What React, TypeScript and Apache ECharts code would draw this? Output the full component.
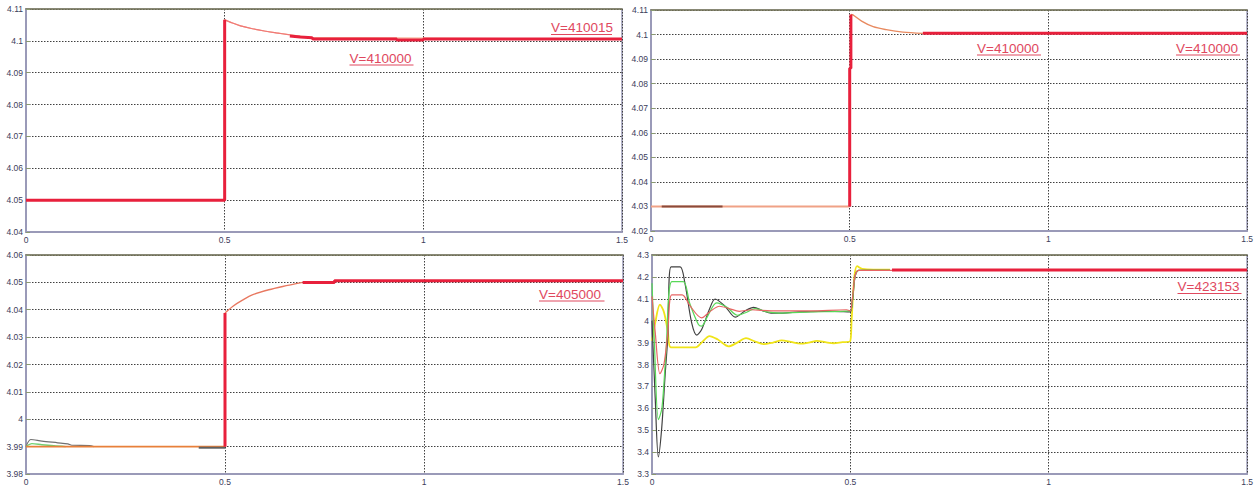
import React, { useEffect, useRef } from "react";
import * as echarts from "echarts";

// ---------- tick / axis data ----------
const xTicks = [0, 0.5, 1, 1.5];
const yRanges = [
  { min: 4.04, max: 4.11, interval: 0.01 },
  { min: 4.02, max: 4.11, interval: 0.01 },
  { min: 3.98, max: 4.06, interval: 0.01 },
  { min: 3.3, max: 4.3, interval: 0.1 },
];

// ---------- panel 1 ----------
const p1Orange = [[0, 4.05], [0.5, 4.05], [0.5, 4.1066], [0.52, 4.1056], [0.54, 4.1047], [0.57, 4.1038], [0.6, 4.1031], [0.63, 4.1025], [0.66, 4.102], [0.72, 4.101], [1.5, 4.1006]];
const p1RedStep = [[0, 4.05], [0.5, 4.05], [0.5, 4.1066]];
const p1Decay = [[0.5, 4.1066], [0.52, 4.1056], [0.54, 4.1047], [0.57, 4.1038], [0.6, 4.1031], [0.63, 4.1025], [0.664, 4.1019]];
const p1RedTail = [[0.664, 4.1015], [0.69, 4.1012], [0.72, 4.101], [0.722, 4.1006], [0.933, 4.1006], [0.933, 4.1003], [1.0, 4.1003], [1.0, 4.1006], [1.5, 4.1006]];

// ---------- panel 2 ----------
const p2Base = [[0, 4.03], [0.5, 4.03]];
const p2Brown = [[0.027, 4.03], [0.18, 4.03]];
const p2RedStep = [[0.5, 4.03], [0.5, 4.0863], [0.503, 4.0863], [0.503, 4.1082]];
const p2Decay = [[0.503, 4.1082], [0.508, 4.108], [0.53, 4.1055], [0.559, 4.1032], [0.592, 4.102], [0.634, 4.101], [0.684, 4.1005]];
const p2RedTail = [[0.684, 4.1005], [1.5, 4.1005]];

// ---------- panel 3 ----------
const p3Orange = [[0, 3.99], [0.5, 3.99]];
const p3Gray = [[0, 3.99], [0.012, 3.9926], [0.04, 3.992], [0.08, 3.9914], [0.105, 3.991], [0.115, 3.9905], [0.16, 3.9904], [0.17, 3.99]];
const p3Green = [[0, 3.99], [0.015, 3.9911], [0.04, 3.9907], [0.07, 3.9903], [0.1, 3.99]];
const p3GrayLow = [[0.434, 3.9896], [0.5, 3.9896]];
const p3RedStep = [[0.5, 3.99], [0.5, 4.0388]];
const p3Rise = [[0.5, 4.0388], [0.52, 4.0413], [0.545, 4.0436], [0.57, 4.0455], [0.61, 4.0473], [0.645, 4.0485], [0.695, 4.05]];
const p3RedTail = [[0.695, 4.05], [0.775, 4.05], [0.775, 4.0506], [1.5, 4.0506]];

// ---------- panel 4 ----------
const p4Yellow = [[0, 3.908], [0.008, 3.99], [0.02, 4.073], [0.03, 4.04], [0.04, 3.95], [0.048, 3.878], [0.11, 3.878], [0.125, 3.9], [0.145, 3.93], [0.165, 3.915], [0.193, 3.883], [0.215, 3.9], [0.237, 3.92], [0.26, 3.905], [0.281, 3.893], [0.305, 3.9], [0.327, 3.91], [0.35, 3.903], [0.374, 3.895], [0.395, 3.9], [0.416, 3.908], [0.437, 3.902], [0.458, 3.897], [0.48, 3.902], [0.499, 3.905], [0.503, 4.0], [0.51, 4.2], [0.517, 4.249], [0.53, 4.237], [0.6, 4.233]];
const p4Gray = [[0, 4.0], [0.008, 3.65], [0.016, 3.378], [0.0245, 3.51], [0.033, 3.75], [0.04, 3.93], [0.048, 4.246], [0.071, 4.246], [0.083, 4.171], [0.1, 3.99], [0.113, 3.934], [0.1255, 3.961], [0.146, 4.058], [0.159, 4.099], [0.184, 4.066], [0.21, 4.016], [0.235, 4.045], [0.256, 4.061], [0.28, 4.045], [0.3, 4.035], [0.33, 4.035], [0.37, 4.04], [0.42, 4.043], [0.46, 4.043], [0.499, 4.04], [0.505, 4.09], [0.521, 4.23], [0.6, 4.23]];
const p4Green = [[0, 4.171], [0.006, 3.9], [0.016, 3.548], [0.025, 3.6], [0.035, 3.85], [0.05, 4.178], [0.079, 4.178], [0.095, 4.08], [0.117, 3.983], [0.125, 3.975], [0.14, 4.02], [0.163, 4.081], [0.19, 4.06], [0.215, 4.025], [0.24, 4.04], [0.26, 4.055], [0.29, 4.04], [0.32, 4.035], [0.4, 4.04], [0.499, 4.045], [0.505, 4.09], [0.521, 4.23], [0.6, 4.23]];
const p4RedThin = [[0, 4.111], [0.008, 3.95], [0.02, 3.758], [0.03, 3.8], [0.04, 3.95], [0.05, 4.118], [0.076, 4.118], [0.095, 4.07], [0.125, 4.013], [0.145, 4.04], [0.17, 4.066], [0.195, 4.055], [0.22, 4.043], [0.25, 4.05], [0.3, 4.045], [0.4, 4.045], [0.49, 4.05], [0.5, 4.045], [0.505, 4.1], [0.521, 4.23], [0.605, 4.23]];
const p4RedTail = [[0.605, 4.2315], [1.5, 4.2315]];

// ---------- annotations ----------
const labelTexts = ["V=410015", "V=410000", "V=410000", "V=410000", "V=405000", "V=423153"];

const grids = [
  { left: 26, top: 9, width: 596, height: 223 },
  { left: 651, top: 10, width: 597, height: 221 },
  { left: 26, top: 255, width: 597, height: 222 },
  { left: 652, top: 255, width: 596, height: 222 },
];

const labelPos = [
  { x: 551, cy: 27.7, ul: 34.5, w: 61 },
  { x: 349.5, cy: 58.3, ul: 65, w: 64 },
  { x: 977, cy: 48.3, ul: 55, w: 64 },
  { x: 1176, cy: 48.3, ul: 55, w: 64 },
  { x: 539, cy: 294.3, ul: 301, w: 65.5 },
  { x: 1177.5, cy: 286.7, ul: 293.5, w: 64 },
];

const RED = "#e8203c";
const LAB = "#e0485e";

export default function App() {
  const ref = useRef<HTMLDivElement>(null);
  useEffect(() => {
    if (!ref.current) return;
    const chart = echarts.init(ref.current, undefined, { renderer: "svg" });
    const axisFont = { fontSize: 8.5, fontFamily: "Liberation Sans", color: "#3c3c5a" };
    const xAxes: any[] = [];
    const yAxes: any[] = [];
    grids.forEach((_, i) => {
      xAxes.push({
        type: "value", gridIndex: i, min: xTicks[0], max: xTicks[xTicks.length - 1], interval: 0.5,
        axisLine: { lineStyle: { color: "#9a9ab8", width: 2 } },
        axisTick: { show: false },
        axisLabel: { ...axisFont, margin: 3, formatter: (v: number) => String(+v.toFixed(2)) },
        splitLine: { show: true, lineStyle: { type: [1.5, 1.5], color: "#404040", width: 1 } },
      });
      yAxes.push({
        type: "value", gridIndex: i, min: yRanges[i].min, max: yRanges[i].max, interval: yRanges[i].interval,
        axisLine: { show: true, lineStyle: { color: "#9a9ab8", width: 2 } },
        axisTick: { show: true, inside: true, length: 4, lineStyle: { color: "#8a9a70" } },
        axisLabel: { ...axisFont, margin: 3, formatter: (v: number) => String(+v.toFixed(3)) },
        splitLine: { show: true, lineStyle: { type: [1.5, 1.5], color: "#404040", width: 1 } },
      });
    });
    grids.forEach((_, i) => {
      xAxes.push({
        type: "value", gridIndex: i, position: "top", min: 0, max: 1.5,
        axisLine: { show: true, lineStyle: { color: "#7b7b5a", width: 1.5 } },
        axisTick: { show: false }, axisLabel: { show: false }, splitLine: { show: false },
      });
    });

    const ln = (g: number, data: number[][], color: string, width: number, z = 2, smooth = 0) => ({
      type: "line", xAxisIndex: g, yAxisIndex: g, data, symbol: "none", silent: true, z,
      lineStyle: { color, width }, clip: true,
      smooth: smooth > 0 ? smooth : false,
    });

    const series = [
      ln(0, p1Orange, "#f4a080", 1.2, 2),
      ln(0, p1RedStep, RED, 3, 4),
      ln(0, p1Decay, "#f07878", 1.2, 3, 0.3),
      ln(0, p1RedTail, RED, 3, 4),

      ln(1, p2Base, "#f0a286", 2, 2),
      ln(1, p2Brown, "#8a4a3a", 2, 3),
      ln(1, p2RedStep, RED, 3, 4),
      ln(1, p2Decay, "#e88a60", 1.4, 3, 0.3),
      ln(1, p2RedTail, RED, 3, 4),

      ln(2, p3Gray, "#707070", 1.2, 2, 0.3),
      ln(2, p3Green, "#70d070", 1.4, 2, 0.3),
      ln(2, p3Orange, "#e8803a", 1.6, 3),
      ln(2, p3GrayLow, "#606060", 2, 3),
      ln(2, p3RedStep, RED, 3, 4),
      ln(2, p3Rise, "#e87860", 1.4, 3, 0.3),
      ln(2, p3RedTail, RED, 3, 4),

      ln(3, p4Yellow, "#f0e418", 1.8, 2, 0.3),
      ln(3, p4Gray, "#404040", 1.2, 3, 0.3),
      ln(3, p4Green, "#58d858", 1.2, 3, 0.3),
      ln(3, p4RedThin, "#e86464", 1.2, 3, 0.3),
      ln(3, p4RedTail, RED, 3, 4),
    ];

    const graphic: any[] = [];
    labelTexts.forEach((t, i) => {
      const p = labelPos[i];
      graphic.push({
        type: "text", x: p.x, y: p.cy, silent: true,
        style: { text: t, fill: LAB, fontSize: 13.5, fontFamily: "Liberation Sans", verticalAlign: "middle", align: "left" },
      });
      graphic.push({
        type: "line", silent: true,
        shape: { x1: p.x, y1: p.ul, x2: p.x + p.w, y2: p.ul },
        style: { stroke: LAB, lineWidth: 1 },
      });
    });

    chart.setOption({
      animation: false,
      backgroundColor: "#ffffff",
      grid: grids.map((g) => ({ ...g, show: true, borderColor: "#9a9ab8", borderWidth: 1.5, backgroundColor: "#ffffff" })),
      xAxis: xAxes,
      yAxis: yAxes,
      series,
      graphic,
    });
    return () => chart.dispose();
  }, []);
  return <div ref={ref} style={{ position: "absolute", left: 0, top: 0, width: 1256, height: 486 }} />;
}
